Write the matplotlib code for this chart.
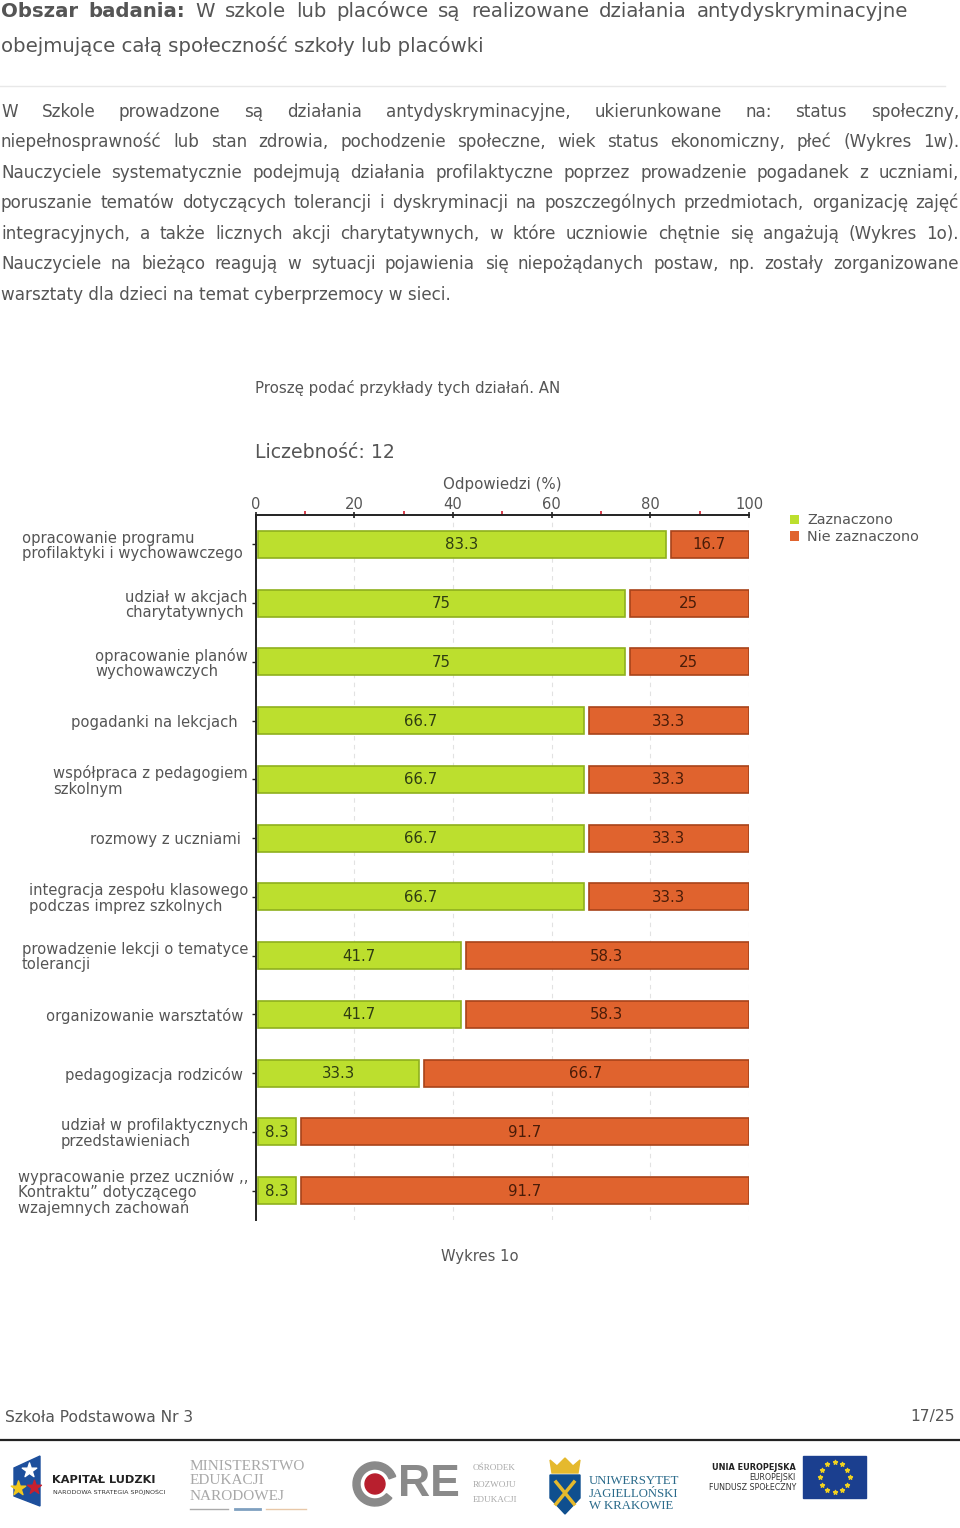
import numpy as np
import matplotlib
matplotlib.use("Agg")
import matplotlib.pyplot as plt
from matplotlib.patches import Polygon, Rectangle, Circle, Wedge
from matplotlib.transforms import offset_copy

plt.rcParams['font.family'] = ['DejaVu Sans']

# === Data ===
categories = [
    "opracowanie programu\nprofilaktyki i wychowawczego",
    "udział w akcjach\ncharytatywnych",
    "opracowanie planów\nwychowawczych",
    "pogadanki na lekcjach",
    "współpraca z pedagogiem\nszkolnym",
    "rozmowy z uczniami",
    "integracja zespołu klasowego\npodczas imprez szkolnych",
    "prowadzenie lekcji o tematyce\ntolerancji",
    "organizowanie warsztatów",
    "pedagogizacja rodziców",
    "udział w profilaktycznych\nprzedstawieniach",
    "wypracowanie przez uczniów ,,\nKontraktu” dotyczącego\nwzajemnych zachowań",
]
zaznaczono = [83.3, 75, 75, 66.7, 66.7, 66.7, 66.7, 41.7, 41.7, 33.3, 8.3, 8.3]
nie_zaznaczono = [16.7, 25, 25, 33.3, 33.3, 33.3, 33.3, 58.3, 58.3, 66.7, 91.7, 91.7]
major_ticks = [0, 20, 40, 60, 80, 100]
minor_ticks = [10, 30, 50, 70, 90]
label_shift = [-5, -1, 0, -11, 0, -7, 0, 0, -5, -5, 0, 0]  # px, labels do not line up in the original

body_lines = [
    "W Szkole prowadzone są działania antydyskryminacyjne, ukierunkowane na: status społeczny,",
    "niepełnosprawność lub stan zdrowia, pochodzenie społeczne, wiek status ekonomiczny, płeć (Wykres 1w).",
    "Nauczyciele systematycznie podejmują działania profilaktyczne poprzez prowadzenie pogadanek z uczniami,",
    "poruszanie tematów dotyczących tolerancji i dyskryminacji na poszczególnych przedmiotach, organizację zajęć",
    "integracyjnych, a także licznych akcji charytatywnych, w które uczniowie chętnie się angażują (Wykres 1o).",
    "Nauczyciele na bieżąco reagują w sytuacji pojawienia się niepożądanych postaw, np. zostały zorganizowane",
]
body_last = "warsztaty dla dzieci na temat cyberprzemocy w sieci."
body_base = [117, 147, 178, 208, 239, 269]

GREEN = "#bcdf2e"
GREEN_EDGE = "#8fb01e"
ORANGE = "#e0632e"
ORANGE_EDGE = "#a8431a"
TEXT = "#555555"
W, H = 960, 1528

fig = plt.figure(figsize=(W / 100, H / 100), dpi=100, facecolor="white")

# page layer in pixel coordinates
page = fig.add_axes([0, 0, 1, 1])
page.set_xlim(0, W)
page.set_ylim(H, 0)
page.axis("off")
renderer = fig.canvas.get_renderer()


def justify(words, y, x0, x1, size, color=TEXT, weights=None):
    # place words one by one so that the line fills x0..x1
    items = []
    for i, w in enumerate(words):
        weight = weights[i] if weights else "normal"
        items.append(page.text(x0, y, w, fontsize=size, color=color, va="baseline", weight=weight))
    widths = [t.get_window_extent(renderer).width for t in items]
    gap = (x1 - x0 - sum(widths)) / (len(words) - 1)
    x = x0
    for t, w in zip(items, widths):
        t.set_x(x)
        x += w + gap


head = "Obszar badania: W szkole lub placówce są realizowane działania antydyskryminacyjne".split()
justify(head, 17, 1, 908, 14.2, weights=["bold", "bold"] + ["normal"] * (len(head) - 2))
page.text(1, 52, "obejmujące całą społeczność szkoły lub placówki", fontsize=14.2, color=TEXT, va="baseline")
page.plot([0, 945], [86, 86], color="#e8e8e8", lw=1)

for line, y in zip(body_lines, body_base):
    justify(line.split(), y, 1, 959, 12.05)
page.text(1, 300, body_last, fontsize=12.1, color=TEXT, va="baseline")

# chart titles
page.text(255, 388, "Proszę podać przykłady tych działań. AN", fontsize=10.8, color=TEXT, va="center")
page.text(255, 452, "Liczebność: 12", fontsize=13.6, color=TEXT, va="center")
page.text(480, 1257, "Wykres 1o", fontsize=10.6, color=TEXT, va="center", ha="center")

# === Chart ===
ax = fig.add_axes([255.5 / W, 1 - 1220 / H, 493.5 / W, 705 / H])
ax.patch.set_alpha(0)
ypos = np.arange(len(categories))
inset = 0.6
ax.barh(ypos, np.array(zaznaczono) - inset - 0.1, left=inset, height=0.46, color=GREEN,
        edgecolor=GREEN_EDGE, lw=1.2, label="Zaznaczono", zorder=3)
ax.barh(ypos, np.array(nie_zaznaczono) - inset - 0.3, left=np.array(zaznaczono) + inset + 0.3, height=0.46,
        color=ORANGE, edgecolor=ORANGE_EDGE, lw=1.2, label="Nie zaznaczono", zorder=3)
for y, a, b in zip(ypos, zaznaczono, nie_zaznaczono):
    ax.text(a / 2 + 0.1, y + 0.01, f"{a:g}", ha="center", va="center", fontsize=10.8, color="#2f3d12", zorder=4)
    ax.text(a + b / 2 + 0.3, y + 0.01, f"{b:g}", ha="center", va="center", fontsize=10.8, color="#4a1c08", zorder=4)

ax.set_xlim(0, 100)
ax.set_ylim(len(categories) - 0.5, -0.5)
ax.xaxis.tick_top()
ax.xaxis.set_label_position("top")
ax.set_xticks(major_ticks)
ax.set_xticks(minor_ticks, minor=True)
ax.set_yticks(ypos)
ax.set_yticklabels(categories, multialignment="left", linespacing=1.02)
ax.tick_params(axis="x", which="major", length=5, width=1.2, color="#222222", labelsize=10.6,
               labelcolor=TEXT, pad=0, direction="inout")
ax.tick_params(axis="x", which="minor", length=3, width=1.2, color="#d01c2c", direction="out")
ax.tick_params(axis="y", length=3, width=1, color="#222222", labelsize=10.65, labelcolor=TEXT, pad=2.3)
ax.set_xlabel("Odpowiedzi (%)", fontsize=10.8, color=TEXT, labelpad=5.5)
ax.grid(axis="x", which="major", color="#e2e2e2", lw=0.8, ls=(0, (4, 4)), zorder=0)
for lab, dx in zip(ax.get_yticklabels(), label_shift):
    lab.set_transform(offset_copy(lab.get_transform(), fig, x=dx, y=0, units="dots"))
for s in ["right", "bottom"]:
    ax.spines[s].set_visible(False)
ax.spines["top"].set_linewidth(1.4)
ax.spines["left"].set_linewidth(1.4)
ax.spines["top"].set_color("#222222")
ax.spines["left"].set_color("#222222")
leg = ax.legend(loc="upper left", bbox_to_anchor=(790 / W, 1 - 513.5 / H), bbox_transform=fig.transFigure,
                frameon=False, fontsize=10.4, labelcolor=TEXT, handlelength=0.65, handleheight=0.65,
                handletextpad=0.55, labelspacing=0.2, borderpad=0, borderaxespad=0)
for h in leg.get_patches():
    h.set_linewidth(0)

# === Footer ===
page.text(5, 1417, "Szkoła Podstawowa Nr 3", fontsize=11.2, color=TEXT, va="center")
page.text(955, 1417, "17/25", fontsize=11.2, color=TEXT, va="center", ha="right")
page.plot([0, 960], [1440, 1440], color="#222222", lw=1.6)

# Kapital Ludzki logo
page.add_patch(Polygon([[14, 1468], [40, 1456], [40, 1506], [14, 1496]], color="#1d4f9c"))
page.scatter([29], [1470], marker="*", s=120, color="white", zorder=3)
page.scatter([34], [1487], marker="*", s=110, color="#c8202e", zorder=3)
page.scatter([18], [1488], marker="*", s=120, color="#f2c81e", zorder=3)
page.text(52, 1480, "KAPITAŁ LUDZKI", fontsize=8.2, weight="bold", color="#222222", va="center")
page.text(53, 1492, "NARODOWA STRATEGIA SPÓJNOŚCI", fontsize=4.6, color="#333333", va="center")

# Ministerstwo logo
for txt, y in zip(["MINISTERSTWO", "EDUKACJI", "NARODOWEJ"], [1466, 1481, 1497]):
    page.text(190, y, txt, fontsize=11, family="Liberation Serif", color="#a8a8a8", va="center")
page.plot([190, 228], [1509, 1509], color="#aaaaaa", lw=1)
page.plot([266, 306], [1509, 1509], color="#e8c8a8", lw=1)
page.plot([235, 260], [1509, 1509], color="#7fa0c0", lw=2)

# ORE logo
page.add_patch(Wedge((375, 1484), 22, 40, 340, width=7, color="#8a8a8a"))
page.add_patch(Circle((375, 1484), 10, color="#b81f2e"))
page.text(398, 1484, "RE", fontsize=32, weight="bold", family="Liberation Sans", color="#8a8a8a",
          va="center", ha="left")
for txt, y in zip(["OŚRODEK", "ROZWOJU", "EDUKACJI"], [1468, 1485, 1500]):
    page.text(473, y, txt, fontsize=6.6, family="Liberation Serif", color="#a8a8a8", va="center")

# UJ logo
page.add_patch(Polygon([[550, 1475], [580, 1475], [580, 1498], [565, 1514], [550, 1498]], color="#0f4f8f"))
page.add_patch(Polygon([[550, 1460], [557, 1466], [565, 1458], [573, 1466], [580, 1460], [578, 1473], [552, 1473]],
                       color="#e5b92d"))
page.plot([556, 574], [1482, 1504], color="#e5b92d", lw=2.5)
page.plot([574, 556], [1482, 1504], color="#e5b92d", lw=2.5)
for txt, y in zip(["UNIWERSYTET", "JAGIELLOŃSKI", "W KRAKOWIE"], [1481, 1494, 1506]):
    page.text(589, y, txt, fontsize=9.2, family="Liberation Serif", color="#2a6a8a", va="center")

# EU logo
page.text(796, 1468, "UNIA EUROPEJSKA", fontsize=5.9, weight="bold", color="#222222", va="center", ha="right")
page.text(796, 1478, "EUROPEJSKI", fontsize=5.7, color="#333333", va="center", ha="right")
page.text(796, 1488, "FUNDUSZ SPOŁECZNY", fontsize=5.7, color="#333333", va="center", ha="right")
page.add_patch(Rectangle((803, 1456), 63, 42, color="#1b3f8f"))
ang = np.arange(12) * np.pi / 6
page.scatter(834.5 + 15 * np.cos(ang), 1477 + 15 * np.sin(ang), marker="*", s=9, color="#f2d21e", zorder=3)

fig.savefig("out.png", dpi=100)
